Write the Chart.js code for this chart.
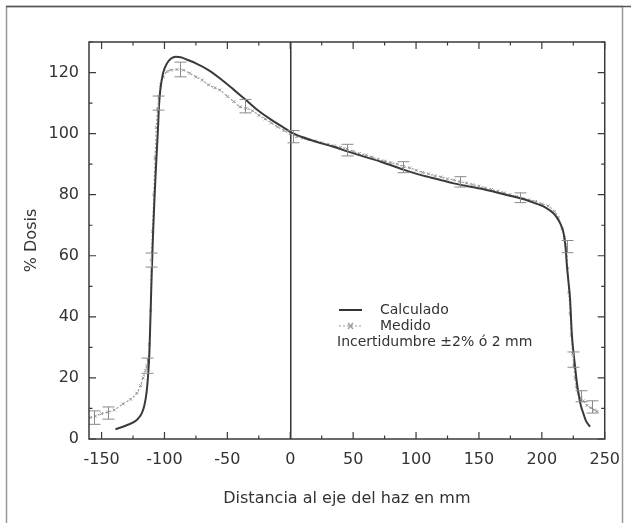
<!DOCTYPE html>
<html>
<head>
<meta charset="utf-8">
<script src="https://cdn.jsdelivr.net/npm/chart.js@4"></script>
<style>
  body { margin: 0; background: #fff; }
  canvas { display: block; }
</style>
</head>
<body>
<canvas id="doseChart" width="631" height="523"></canvas>
<script>
// Perfil de dosis: calculado vs medido
const calcX = [-139, -130, -122, -118, -116, -114.3, -113, -112, -111, -110, -109, -108, -107, -106, -105, -104.4, -103.3, -101.2, -98, -95, -91, -87, -82, -75, -65, -55, -45, -35, -25, -15, -5, 0, 10, 20, 35, 46, 60, 72, 90, 104, 118, 130, 151, 172, 185, 196, 203, 209, 212, 214.6, 217.3, 219, 220, 221.3, 222.5, 223.8, 225, 226.4, 228, 229.1, 231, 233, 235, 238.3];
const calcY = [3.2, 4.5, 6.2, 8.5, 11, 15, 21, 28, 42, 56, 68, 78, 87, 95, 103, 108.8, 114.3, 119.7, 123, 124.5, 125.2, 125, 124.2, 123, 120.8, 117.8, 114.4, 110.9, 107.4, 104.5, 101.9, 100.6, 98.8, 97.4, 95.6, 94.1, 92.3, 90.8, 88.2, 86.4, 85, 83.7, 82, 79.9, 78.6, 77, 75.8, 74, 72.5, 70.6, 67.4, 62, 56.4, 51, 45.5, 34.6, 29, 23.7, 18, 15, 11, 8.4, 6, 4];

const medX = [-159, -155, -150, -145, -140, -133, -127, -122, -119, -117, -115, -114, -113, -112, -111, -110.4, -109.5, -108.5, -107.5, -106.5, -105.5, -104.5, -103, -101, -98, -95, -90, -85, -80, -75, -70, -65, -60, -56, -50, -45, -40, -35, -30, -25, -20, -15, -10, -5, 0, 5, 10, 15, 20, 25, 30, 35, 40, 45, 50, 55, 60, 65, 70, 75, 80, 85, 90, 95, 100, 105, 110, 115, 120, 125, 130, 135, 140, 145, 150, 155, 160, 165, 170, 175, 180, 185, 190, 195, 200, 205, 210, 213, 216, 218, 219.5, 220.5, 221.5, 222.5, 223.5, 224.5, 225.5, 226.5, 227.5, 229, 231, 233, 236, 239, 242, 244];
const medY = [7, 7.5, 8.3, 8.8, 9.5, 11.5, 13, 15, 17.5, 20, 22.5, 24, 26, 31, 42, 58.6, 68, 80, 92, 102, 108, 112, 116, 118.5, 120.3, 120.8, 121, 120.8, 119.8, 118.6, 117.5, 116, 115, 114.3, 112.2, 110.5, 108.8, 108.3, 107.5, 106, 104.8, 103.5, 102.2, 101, 100, 99, 98.5, 98, 97.6, 97, 96.5, 96, 95.5, 95, 94.2, 93.5, 93, 92.3, 91.6, 91, 90.5, 90, 89.2, 88.8, 88, 87.3, 86.8, 86.2, 85.8, 85.2, 84.8, 84.3, 83.8, 83.3, 82.8, 82.2, 81.7, 81.2, 80.6, 80, 79.4, 78.8, 78.3, 77.8, 77, 76.3, 74.5, 72.5, 69, 66, 63, 56, 48, 41, 34, 28, 24, 20, 17, 15, 13.5, 12.5, 11, 10.2, 9.5, 9];

// barras de incertidumbre sobre la curva medida
const errX = [-156, -145, -113.5, -110.4, -105.5, -88, -36, 2, 45, 90, 135, 183, 219.8, 225, 231, 240];
const errY = [7, 8.5, 24, 58.6, 110, 121, 109, 99, 94.6, 89, 84.2, 79, 63, 26, 14, 10.5];
const errD = [2.2, 2, 2.5, 2.3, 2.3, 2.4, 2.2, 2, 1.9, 1.8, 1.7, 1.6, 2, 2.5, 1.8, 2];

const xTickValues = [-150, -100, -50, 0, 50, 100, 150, 200, 250];
const yTickValues = [0, 20, 40, 60, 80, 100, 120];
const xMinor = 25;
const yMinor = 10;

const FONT = "'DejaVu Sans', sans-serif";
const INK = "#333";

const framePlugin = {
  id: "frame",
  beforeDraw(chart) {
    const c = chart.ctx;
    c.save();
    c.fillStyle = "#fff";
    c.fillRect(0, 0, chart.width, chart.height);
    c.strokeStyle = "#999";
    c.lineWidth = 1.5;
    c.strokeRect(6.5, 6.5, 616, 540);
    c.strokeStyle = "#555";
    c.beginPath();
    c.moveTo(6, 6.5);
    c.lineTo(chart.width, 6.5);
    c.stroke();
    c.restore();
  },
  afterDatasetsDraw(chart) {
    const c = chart.ctx;
    const a = chart.chartArea;
    const xs = chart.scales.x, ys = chart.scales.y;
    c.save();

    // error bars
    c.strokeStyle = "#8a8a8a";
    c.lineWidth = 1;
    errX.forEach((x, i) => {
      const px = Math.round(xs.getPixelForValue(x)) + 0.5;
      const lo = ys.getPixelForValue(errY[i] - errD[i]);
      const hi = ys.getPixelForValue(errY[i] + errD[i]);
      c.beginPath();
      c.moveTo(px, lo); c.lineTo(px, hi);
      c.moveTo(px - 6, lo); c.lineTo(px + 6, lo);
      c.moveTo(px - 6, hi); c.lineTo(px + 6, hi);
      c.stroke();
    });

    // frame
    c.strokeStyle = "#3a3a3a";
    c.lineWidth = 1.5;
    c.strokeRect(a.left, a.top, a.right - a.left, a.bottom - a.top);

    // inward ticks on all four sides
    c.lineWidth = 1.2;
    c.beginPath();
    for (let v = -150; v <= 250; v += xMinor) {
      const px = xs.getPixelForValue(v);
      const len = v % 50 === 0 ? 7 : 3.5;
      c.moveTo(px, a.bottom); c.lineTo(px, a.bottom - len);
      c.moveTo(px, a.top); c.lineTo(px, a.top + len);
    }
    for (let v = 0; v <= 130; v += yMinor) {
      const py = ys.getPixelForValue(v);
      const len = v % 20 === 0 ? 7 : 3.5;
      c.moveTo(a.left, py); c.lineTo(a.left + len, py);
      c.moveTo(a.right, py); c.lineTo(a.right - len, py);
    }
    c.stroke();

    // legend
    const lx = 339, ly = 310;
    c.font = "14px " + FONT;
    c.textBaseline = "middle";
    c.fillStyle = INK;
    c.strokeStyle = "#333";
    c.lineWidth = 2;
    c.beginPath(); c.moveTo(lx, ly); c.lineTo(lx + 23, ly); c.stroke();
    c.fillText("Calculado", lx + 41, ly);
    c.strokeStyle = "#999";
    c.lineWidth = 1.2;
    c.setLineDash([2, 2]);
    c.beginPath(); c.moveTo(lx, ly + 16); c.lineTo(lx + 23, ly + 16); c.stroke();
    c.setLineDash([]);
    c.beginPath();
    c.moveTo(lx + 9, ly + 13); c.lineTo(lx + 14, ly + 19);
    c.moveTo(lx + 14, ly + 13); c.lineTo(lx + 9, ly + 19);
    c.stroke();
    c.fillText("Medido", lx + 41, ly + 16);
    c.fillText("Incertidumbre \u00b12% \u00f3 2 mm", lx - 2, ly + 32);
    c.restore();
  }
};

new Chart(document.getElementById("doseChart"), {
  type: "line",
  data: {
    datasets: [
      {
        label: "Calculado",
        data: calcX.map((x, i) => ({ x: x, y: calcY[i] })),
        borderColor: "#3a3a3a",
        borderWidth: 2,
        pointRadius: 0,
        cubicInterpolationMode: "monotone"
      },
      {
        label: "Medido",
        data: medX.map((x, i) => ({ x: x, y: medY[i] })),
        borderColor: "#9a9a9a",
        borderWidth: 1.2,
        borderDash: [2, 2],
        pointStyle: "crossRot",
        pointRadius: 2,
        pointBorderColor: "#9a9a9a",
        pointBorderWidth: 1,
        cubicInterpolationMode: "monotone"
      }
    ]
  },
  options: {
    responsive: false,
    animation: false,
    devicePixelRatio: 1,
    layout: { padding: { left: 0, top: 42, right: 23, bottom: 0 } },
    plugins: { legend: { display: false }, tooltip: { enabled: false } },
    scales: {
      x: {
        type: "linear",
        min: -160,
        max: 250,
        afterBuildTicks: s => { s.ticks = xTickValues.map(v => ({ value: v })); },
        afterFit: s => { s.height = 84; },
        border: { display: false },
        grid: {
          drawTicks: false,
          lineWidth: 1.5,
          color: ctx => (ctx.tick && ctx.tick.value === 0 ? "#333" : "rgba(0,0,0,0)")
        },
        ticks: { padding: 11, color: INK, font: { family: FONT, size: 16 }, maxRotation: 0 },
        title: {
          display: true,
          text: "Distancia al eje del haz en mm",
          color: INK,
          font: { family: FONT, size: 16 },
          padding: { top: 0, bottom: 15 }
        }
      },
      y: {
        min: 0,
        max: 130,
        afterBuildTicks: s => { s.ticks = yTickValues.map(v => ({ value: v })); },
        afterFit: s => { s.width = 89; },
        border: { display: false },
        grid: { display: false, drawTicks: false },
        ticks: { padding: 10, color: INK, font: { family: FONT, size: 16 } },
        title: {
          display: true,
          text: "% Dosis",
          color: INK,
          font: { family: FONT, size: 16 },
          padding: { top: 22, bottom: 0 }
        }
      }
    }
  },
  plugins: [framePlugin]
});
</script>
</body>
</html>
